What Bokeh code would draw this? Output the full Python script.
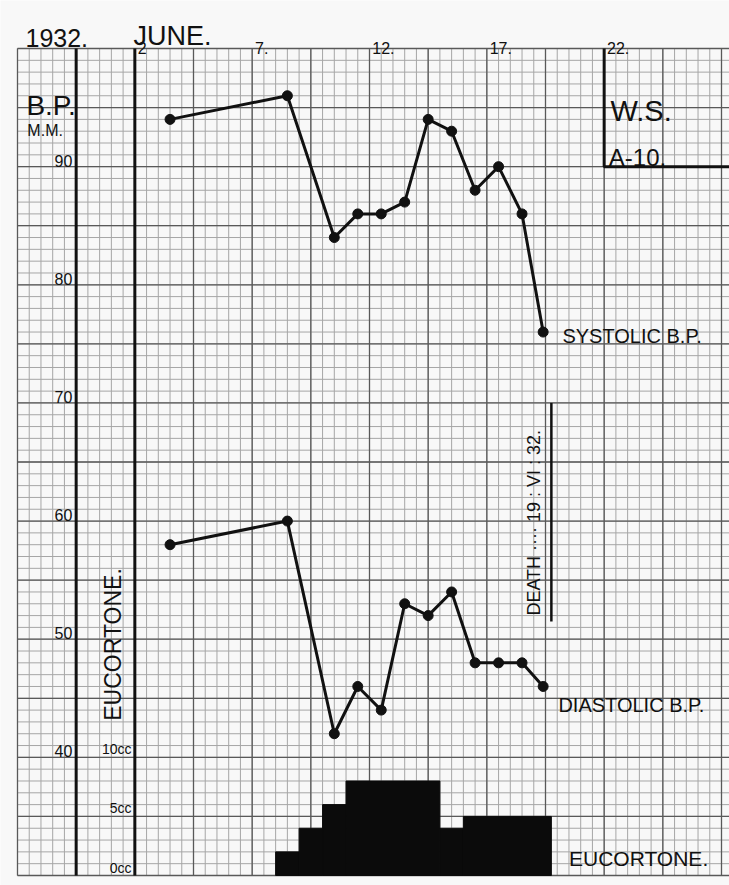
import numpy as np
from bokeh.plotting import figure
from bokeh.models import Range1d
from bokeh.core.properties import value
from bokeh.embed import file_html
from bokeh.resources import INLINE

# ---- data (June 1932, case W.S. A-10) ----
days = [3.5, 8.5, 10.5, 11.5, 12.5, 13.5, 14.5, 15.5, 16.5, 17.5, 18.5, 19.4]
systolic = [94, 96, 84, 86, 86, 87, 94, 93, 88, 90, 86, 76]
diastolic = [58, 60, 42, 46, 44, 53, 52, 54, 48, 48, 48, 46]

eucortone_start = [8, 9, 10, 11, 15, 16]
eucortone_end = [9, 10, 11, 15, 16, 19.75]
eucortone_cc = [2, 4, 6, 8, 4, 5]

date_ticks = [2, 7, 12, 17, 22]
date_labels = ["2", "7.", "12.", "17.", "22."]
bp_ticks = [90, 80, 70, 60, 50, 40]
bp_labels = ["90", "80", "70", "60", "50", "40"]
cc_ticks = [10, 5, 0]
cc_labels = ["10cc", "5cc", "0cc"]
death_day = 19.75

# sheet geometry (graph paper: half-day x 1 mm Hg cells)
X0, X1 = -3, 27.5
Y0, Y1 = 30, 100
PX_DAY = 704 / 30.0
PX_MM = 827 / 70.0
W, H = 729, 885
x_start = X0 - 17 / PX_DAY
y_start = Y0 - 10 / PX_MM
y_end = Y1 + 48 / PX_MM

BG = "#f8f8f8"
INK = "#111111"
FONT = "Liberation Sans"

p = figure(width=W, height=H,
           x_range=Range1d(x_start, x_start + W / PX_DAY),
           y_range=Range1d(y_start, y_end),
           x_axis_location=None, y_axis_location=None,
           toolbar_location=None, output_backend="svg",
           min_border=0, background_fill_color=BG, border_fill_color=BG)
p.outline_line_color = None
p.grid.visible = False
p.extra_y_ranges = {"cc": Range1d(y_start - Y0, y_end - Y0)}

# graph-paper grid
minor_x = np.arange(X0, X1 + 0.01, 0.5)
major_x = np.arange(X0, X1 + 0.01, 2.5)
minor_y = np.arange(Y0, Y1 + 0.01, 1)
major_y = np.arange(Y0, Y1 + 0.01, 5)
for xs, ys, col, lw in ((minor_x, minor_y, "#a6a6a6", 1), (major_x, major_y, "#595959", 1.3)):
    p.segment(x0=xs, y0=Y0, x1=xs, y1=Y1, line_color=col, line_width=lw)
    p.segment(x0=X0, y0=ys, x1=X1, y1=ys, line_color=col, line_width=lw)

# heavy ruled lines
p.segment(x0=[-0.5, 2], y0=Y0, x1=[-0.5, 2], y1=Y1, line_color=INK, line_width=3)
p.line([22, 22, X1], [100, 90, 90], line_color=INK, line_width=3)
p.segment(x0=[death_day], y0=[51.5], x1=[death_day], y1=[70], line_color=INK, line_width=2.5)

# eucortone doses (cc scale)
p.quad(left=eucortone_start, right=eucortone_end, bottom=0, top=eucortone_cc,
       y_range_name="cc", fill_color="#0b0b0b", line_color="#0b0b0b")

# blood pressure
for series in (systolic, diastolic):
    p.line(days, series, line_color=INK, line_width=3)
    p.scatter(days, series, size=10, fill_color=INK, line_color=INK)

# scale labels
p.text(x=[-0.66] * len(bp_ticks), y=bp_ticks, text=bp_labels, text_align="right",
       text_baseline="bottom", text_font=value(FONT), text_font_size="16px", text_color=INK)
p.text(x=[1.86] * len(cc_ticks), y=cc_ticks, text=cc_labels, y_range_name="cc",
       text_align="right", text_baseline="bottom", text_font=value(FONT),
       text_font_size="14px", text_color=INK)
p.text(x=[d + 0.12 for d in date_ticks], y=[100.08] * len(date_ticks), text=date_labels,
       text_align="left", text_baseline="alphabetic", text_font=value(FONT),
       text_font_size="16px", text_color=INK)

def txt(x, y, s, size, angle=0, align="left", baseline="alphabetic"):
    p.text(x=[x], y=[y], text=[s], angle=angle, text_align=align, text_baseline=baseline,
           text_font=value(FONT), text_font_size=size, text_color=INK)

txt(-2.66, 100.85, "1932.", "25px")
txt(1.94, 101.1, "JUNE.", "27px")
txt(-2.62, 95.17, "B.P.", "28px")
txt(-2.58, 93.06, "M.M.", "16px")
txt(22.27, 94.75, "W.S.", "29px")
txt(22.2, 90.8, "A-10.", "24px")
txt(20.22, 75.7, "SYSTOLIC B.P.", "20px")
txt(20.05, 44.4, "DIASTOLIC B.P.", "20px")
txt(20.5, 31.4, "EUCORTONE.", "21px")
txt(1.09, 43.1, "EUCORTONE.", "23px", angle=np.pi / 2, baseline="middle")
txt(18.99, 52.0, "DEATH ···· 19 : VI : 32.", "18px", angle=np.pi / 2, baseline="middle")

open("out.html", "w").write(file_html(p, INLINE))
